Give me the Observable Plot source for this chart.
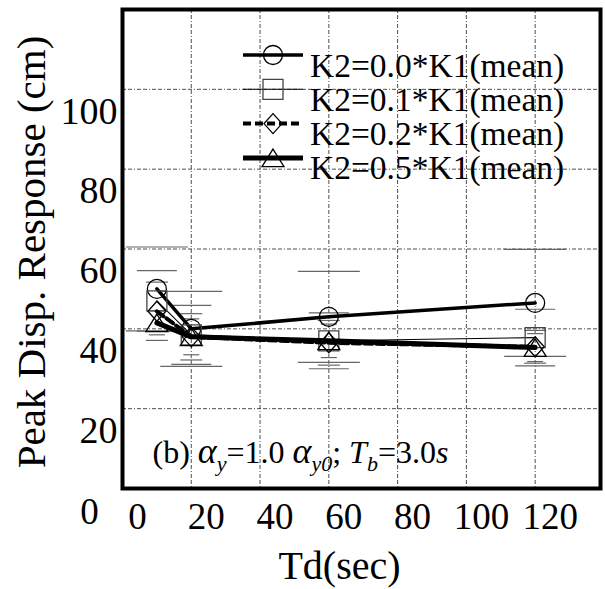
<!DOCTYPE html>
<html><head><meta charset="utf-8">
<script src="https://cdn.jsdelivr.net/npm/d3@7"></script>
<script src="https://cdn.jsdelivr.net/npm/@observablehq/plot@0.6"></script>
<style>
body{margin:0;background:#fff;}
#chart{position:relative;width:605px;height:589px;font-family:"Liberation Serif","Times New Roman",serif;}
#legend{position:absolute;left:0;top:0;pointer-events:none;}
</style></head><body><div id="chart"></div>
<script>
// ---- data ----
const td = [10, 20, 60, 120];
const seriesNames = ["K2=0.0*K1(mean)", "K2=0.1*K1(mean)", "K2=0.2*K1(mean)", "K2=0.5*K1(mean)"];
const meanK00 = [50, 40, 43, 46.5];
const meanK01 = [47, 38.5, 37, 37.8];
const meanK02 = [44.4, 38, 36.5, 35.5];
const meanK05 = [41.5, 38, 37, 35.3];
const sdK00 = [10.5, 9.4, 11.4, 13.4];
const sdK01 = [7.6, 7.4, 7.0, 7.1];
const sdK02 = [7.3, 5.8, 5.6, 4.1];
const sdK05 = [3.0, 4.5, 4.2, 3.5];
const xTicks = [0, 20, 40, 60, 80, 100, 120];
const yTicks = [20, 40, 60, 80, 100];
const yZeroTick = [0];
const xTitle = "Td(sec)";
const yTitle = "Peak Disp. Response (cm)";
const annotation = "(b) αy=1.0 αy0; Tb=3.0s";

// ---- symbols ----
const R = s => Math.sqrt(s / Math.PI);
const hline = {draw(c, s){ const r = R(s); c.moveTo(-r, 0); c.lineTo(r, 0); }};
const circ = {draw(c, s){ const r = R(s); c.moveTo(r, 0); c.arc(0, 0, r, 0, 2 * Math.PI); c.closePath(); }};
const sq = {draw(c, s){ const r = R(s); c.moveTo(-r, -r); c.lineTo(r, -r); c.lineTo(r, r); c.lineTo(-r, r); c.closePath(); }};
const dia = {draw(c, s){ const r = R(s); c.moveTo(0, -r); c.lineTo(r * 0.9, 0); c.lineTo(0, r); c.lineTo(-r * 0.9, 0); c.closePath(); }};
const tri = {draw(c, s){ const r = R(s); c.moveTo(0, -0.8 * r); c.lineTo(r, 0.8 * r); c.lineTo(-r, 0.8 * r); c.closePath(); }};

// ---- styles (kept apart from data) ----
const styles = [
  {symbol: circ, r: 9.5, mstroke: "#000", lw: 3.5, dash: null, cap: 31},
  {symbol: sq,   r: 10,  mstroke: "#444", lw: 1.1, dash: null, cap: 20},
  {symbol: dia,  r: 10,  mstroke: "#000", lw: 4,   dash: "8,4", cap: 11},
  {symbol: tri,  r: 11,  mstroke: "#000", lw: 5,   dash: null, cap: 8}
];

const means = [meanK00, meanK01, meanK02, meanK05];
const sds = [sdK00, sdK01, sdK02, sdK05];
const series = seriesNames.map((name, s) => td.map((t, i) => ({
  series: name, td: t, mean: means[s][i], lo: means[s][i] - sds[s][i], hi: means[s][i] + sds[s][i]
})));

const marks = [];
// grid
marks.push(Plot.ruleX(xTicks.filter(d => d > 0), {stroke: "#222", strokeWidth: 0.8, strokeDasharray: "4,2,4,2,1,2"}));
marks.push(Plot.ruleY(yTicks, {stroke: "#222", strokeWidth: 0.8, strokeDasharray: "4,2,4,2,1,2"}));
// error caps
series.forEach((rows, s) => {
  const st = styles[s];
  marks.push(Plot.dot(rows, {x: "td", y: "lo", symbol: hline, r: st.cap, stroke: "#666", strokeWidth: 1.2, fill: "none"}));
  marks.push(Plot.dot(rows, {x: "td", y: "hi", symbol: hline, r: st.cap, stroke: "#666", strokeWidth: 1.2, fill: "none"}));
});
// lines + markers
series.forEach((rows, s) => {
  const st = styles[s];
  marks.push(Plot.line(rows, {x: "td", y: "mean", stroke: "#000", strokeWidth: st.lw, strokeDasharray: st.dash, strokeLinejoin: "miter"}));
  marks.push(Plot.dot(rows, {x: "td", y: "mean", symbol: st.symbol, r: st.r, stroke: st.mstroke, strokeWidth: 1.3, fill: "none"}));
});
marks.push(Plot.frame({stroke: "#000", strokeWidth: 4}));
// axes
marks.push(Plot.axisX(xTicks, {tickSize: 0, tickPadding: 14, fontSize: 37, dx: 15, label: null}));
marks.push(Plot.axisY(yTicks, {tickSize: 0, tickPadding: 5, fontSize: 38, dy: 22, label: null}));
marks.push(Plot.text(yZeroTick, {y: d => d, frameAnchor: "left", text: d => String(d), dx: -33, dy: 24, fontSize: 37, textAnchor: "middle"}));
marks.push(Plot.text([xTitle], {frameAnchor: "bottom", dx: -22, dy: 62, fontSize: 40, lineAnchor: "top", textAnchor: "middle"}));
marks.push(Plot.text([yTitle], {frameAnchor: "left", dx: -91, dy: 3, rotate: -90, fontSize: 41, lineAnchor: "middle", textAnchor: "middle"}));
marks.push(Plot.text([annotation], {frameAnchor: "bottom-left", dx: 30, dy: -26, fontSize: 32, textAnchor: "start", lineAnchor: "bottom"}));

const plot = Plot.plot({
  width: 605, height: 589,
  marginLeft: 122, marginRight: 5, marginTop: 9, marginBottom: 101,
  x: {domain: [0, 139]},
  y: {domain: [0, 120]},
  style: {fontFamily: "'Liberation Serif','Times New Roman',serif", background: "#fff", color: "#000"},
  marks
});
const chart = document.getElementById("chart");
chart.appendChild(plot);

// rich annotation (subscripts / italics)
const ann = Array.from(plot.querySelectorAll("text")).find(t => t.textContent === annotation);
if (ann) {
  while (ann.firstChild) ann.removeChild(ann.firstChild);
  const parts = [
    ["(b) ", {}], ["α", {it: 1, big: 1}], ["y", {it: 1, sub: 1}], ["=1.0 ", {}], ["α", {it: 1, big: 1}], ["y0", {it: 1, sub: 1}],
    ["; ", {}], ["T", {it: 1}], ["b", {it: 1, sub: 1}], ["=3.0", {}], ["s", {it: 1}]
  ];
  let shifted = false;
  for (const [t, o] of parts) {
    const ts = document.createElementNS("http://www.w3.org/2000/svg", "tspan");
    ts.textContent = t;
    if (o.it) ts.setAttribute("font-style", "italic");
    if (o.big) ts.setAttribute("font-size", "36");
    if (o.sub) {
      ts.setAttribute("font-size", "22");
      if (!shifted) { ts.setAttribute("dy", "8"); shifted = true; }
    } else if (shifted) { ts.setAttribute("dy", "-8"); shifted = false; }
    ann.appendChild(ts);
  }
}

// legend overlay
const legend = d3.select(chart).append("svg").attr("id", "legend").attr("width", 605).attr("height", 589);
seriesNames.forEach((name, i) => {
  const st = styles[i];
  const ly = 55 + i * 34.3;
  const g = legend.append("g");
  g.append("line").attr("x1", 243).attr("x2", 303).attr("y1", ly).attr("y2", ly)
    .attr("stroke", "#000").attr("stroke-width", st.lw).attr("stroke-dasharray", st.dash);
  const p = d3.path();
  st.symbol.draw(p, st.r * st.r * Math.PI);
  g.append("path").attr("d", p.toString()).attr("transform", `translate(273,${ly})`)
    .attr("fill", "none").attr("stroke", st.mstroke).attr("stroke-width", 1.3);
  g.append("text").attr("x", 310).attr("y", ly + 21.5).attr("font-size", 33.5)
    .attr("font-family", "'Liberation Serif','Times New Roman',serif").text(name);
});
</script></body></html>
